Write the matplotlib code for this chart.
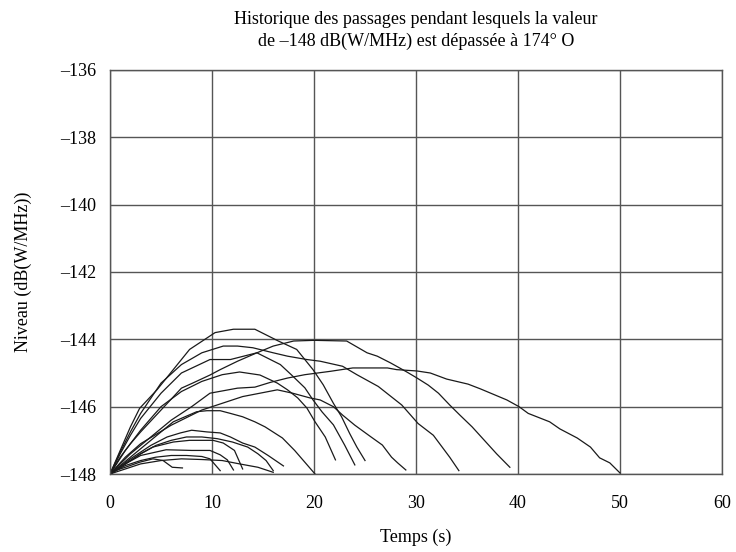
import matplotlib
matplotlib.use("Agg")
import matplotlib.pyplot as plt

plt.rcParams['font.family'] = ['Liberation Serif', 'DejaVu Serif']

# one (time, level) list per passage
p25_t = [0, 1, 2, 2.9, 4.6, 6.2, 7.8, 10.3, 12.1, 14.2, 16.5, 18.3, 19.9, 20.9, 21.9, 22.7, 23.5, 24.2, 25.0]
p25_db = [-148, -147.3, -146.6, -146.05, -145.5, -144.9, -144.3, -143.8, -143.7, -143.7, -144.05, -144.3, -144.9, -145.35, -145.9, -146.3, -146.8, -147.2, -147.6]

p39_t = [0, 1, 2, 3, 5, 7, 8.1, 9.8, 10.8, 12.5, 14.4, 16, 18, 20, 23.2, 25.2, 26.2, 27.5, 29.1, 30.1, 31.2, 32.2, 33.3, 34.3, 35.5, 37, 37.9, 39.2]
p39_db = [-148, -147.5, -147.1, -146.75, -146.1, -145.45, -145.3, -145.06, -144.9, -144.65, -144.4, -144.2, -144.05, -144.03, -144.05, -144.4, -144.5, -144.7, -144.97, -145.15, -145.36, -145.6, -145.95, -146.25, -146.6, -147.1, -147.4, -147.8]

p34_t = [0, 1, 2, 3, 5, 7, 9, 11.1, 12.5, 14, 16, 17.4, 19.3, 20.6, 22.8, 24.2, 26.3, 28.6, 30.2, 31.7, 33.3, 34.2]
p34_db = [-148, -147.35, -146.75, -146.2, -145.3, -144.75, -144.4, -144.2, -144.2, -144.25, -144.4, -144.5, -144.6, -144.65, -144.8, -145.05, -145.4, -145.95, -146.5, -146.85, -147.5, -147.9]

p50_t = [0, 2, 4, 6, 8, 9.8, 12.5, 14.2, 15.7, 17.4, 19.1, 21.6, 23.8, 27.2, 28.1, 30.1, 31.4, 33, 35.1, 36.3, 38.9, 40.1, 41, 43.1, 44.1, 45.8, 47.1, 48, 49, 50]
p50_db = [-148, -147.4, -146.9, -146.4, -146.0, -145.6, -145.45, -145.42, -145.28, -145.15, -145.05, -144.95, -144.85, -144.85, -144.9, -144.94, -145.0, -145.18, -145.33, -145.47, -145.8, -146.0, -146.2, -146.45, -146.66, -146.93, -147.2, -147.52, -147.67, -147.97]

p24_t = [0, 1, 2, 3, 5, 7, 9.8, 11.8, 14.4, 16.7, 17.8, 19.1, 19.9, 20.8, 21.9, 23, 24]
p24_db = [-148, -147.4, -146.85, -146.35, -145.6, -145.0, -144.6, -144.6, -144.4, -144.75, -145.06, -145.44, -145.8, -146.16, -146.54, -147.14, -147.73]

p22_t = [0, 1.5, 3, 5, 7, 9, 11, 12.7, 14.7, 16.4, 17.4, 18.4, 19.3, 20.1, 21.1, 22.1]
p22_db = [-148, -147.3, -146.7, -146.0, -145.55, -145.25, -145.05, -144.97, -145.06, -145.3, -145.5, -145.74, -146.04, -146.45, -146.9, -147.58]

p29_t = [0, 1.5, 3, 6, 9, 11.5, 13, 14.7, 16.4, 17.9, 19.6, 20.6, 21.9, 22.8, 24, 25.5, 26.7, 27.6, 28.2, 29]
p29_db = [-148, -147.5, -147.1, -146.55, -146.1, -145.85, -145.7, -145.6, -145.5, -145.6, -145.74, -145.8, -146.0, -146.25, -146.55, -146.88, -147.14, -147.5, -147.67, -147.88]

p20_t = [0, 2, 4, 6.2, 8.5, 9.5, 10.8, 11.8, 13, 14.2, 15.2, 16.9, 18.1, 20.1]
p20_db = [-148, -147.5, -147.0, -146.45, -146.15, -146.12, -146.12, -146.2, -146.3, -146.45, -146.6, -146.93, -147.3, -148]

p17_t = [0, 2, 4, 5.6, 6.9, 8, 9.5, 10.8, 11.8, 13, 14.2, 15.5, 17]
p17_db = [-148, -147.55, -147.15, -146.9, -146.78, -146.7, -146.75, -146.78, -146.9, -147.08, -147.2, -147.45, -147.76]

p16_t = [0, 1.5, 3, 4.5, 6, 7.5, 9, 10.5, 12, 13.5, 14.5, 15.3, 16]
p16_db = [-148, -147.7, -147.4, -147.15, -147.0, -146.9, -146.9, -146.95, -147.05, -147.2, -147.4, -147.6, -147.9]

p16b_t = [0, 1.5, 3, 5, 7, 9, 11, 12.7, 14.5, 16]
p16b_db = [-148, -147.85, -147.7, -147.6, -147.55, -147.57, -147.6, -147.7, -147.8, -147.95]

p13_t = [0, 1.5, 3, 4.2, 6.2, 7.8, 10.1, 11.1, 12.2, 13]
p13_db = [-148, -147.7, -147.4, -147.2, -147.05, -147.0, -147.0, -147.08, -147.3, -147.85]

p12_t = [0, 1.5, 3, 5.5, 8, 9.8, 10.8, 11.5, 12.1]
p12_db = [-148, -147.7, -147.45, -147.28, -147.3, -147.3, -147.43, -147.58, -147.88]

p11_t = [0, 1.5, 3, 4.5, 6, 7.5, 9, 9.8, 10.8]
p11_db = [-148, -147.75, -147.6, -147.5, -147.45, -147.45, -147.48, -147.55, -147.9]

p7_t = [0, 1.5, 2.9, 4.2, 5.2, 6.1, 7.1]
p7_db = [-147.95, -147.8, -147.65, -147.55, -147.6, -147.8, -147.82]

passes = [(p25_t, p25_db), (p39_t, p39_db), (p34_t, p34_db), (p50_t, p50_db),
          (p24_t, p24_db), (p22_t, p22_db), (p29_t, p29_db), (p20_t, p20_db),
          (p17_t, p17_db), (p16_t, p16_db), (p16b_t, p16b_db), (p13_t, p13_db),
          (p12_t, p12_db), (p11_t, p11_db), (p7_t, p7_db)]

x_ticks = [0, 10, 20, 30, 40, 50, 60]
y_ticks = [-148, -146, -144, -142, -140, -138, -136]

fig = plt.figure(figsize=(7.36, 5.52), dpi=100)
ax = fig.add_axes([0.1495, 0.1413, 0.8315, 0.7319])

for t, db in passes:
    ax.plot(t, db, color="#1a1a1a", lw=0.9)

ax.set_xlim(0, 60)
ax.set_ylim(-148, -136)
ax.set_xticks(x_ticks)
ax.set_yticks(y_ticks)
ax.set_yticklabels(["\u2013%d" % abs(v) for v in y_ticks])
ax.tick_params(length=0, labelsize=13)
ax.tick_params(axis="x", pad=15)
ax.tick_params(axis="y", pad=10)
ax.grid(True, color="#555555", lw=1.0)
for s in ax.spines.values():
    s.set_color("#555555")
    s.set_linewidth(1.0)

ax.set_xlabel("Temps (s)", fontsize=13, labelpad=12)
ax.set_ylabel("Niveau (dB(W/MHz))", fontsize=13, labelpad=20)
ax.set_title("Historique des passages pendant lesquels la valeur\n"
             "de \u2013148 dB(W/MHz) est dépassée à 174° O",
             fontsize=13, pad=17, linespacing=1.35)

fig.savefig("out.png", dpi=100)
